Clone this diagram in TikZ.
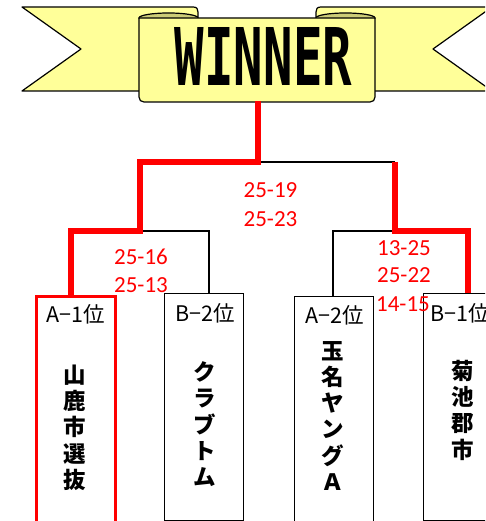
\documentclass[tikz,border=0pt]{standalone}
\usepackage{fontspec}
\newfontfamily\jpfont{Noto Sans CJK JP}
\newfontfamily\scorefont{Carlito}
\newfontfamily\winfont{DejaVu Sans Mono}
\definecolor{ribbon}{RGB}{255,255,153}
\definecolor{ribbondark}{RGB}{204,204,119}
\definecolor{winred}{RGB}{255,0,0}
\begin{document}
\begin{tikzpicture}[x=1pt,y=-1pt,
  ribbonpart/.style={fill=ribbon,draw=black,line width=1.2pt,line join=round},
  rollpart/.style={fill=ribbondark,draw=black,line width=1.2pt},
  teambox/.style={draw=black,line width=1.3pt,minimum width=79pt,anchor=north west,inner sep=0pt},
  winbox/.style={teambox,draw=winred,line width=2.8pt},
  seed/.style={font=\jpfont\fontsize{21.5}{24}\selectfont,inner sep=0pt},
  team/.style={font=\jpfont\bfseries\fontsize{22.5}{26.3}\selectfont,align=center,inner sep=0pt},
  score/.style={font=\scorefont\fontsize{23}{29}\selectfont,text=winred,inner sep=0pt},
  winline/.style={draw=winred,line width=5.5pt,line join=miter},
  loseline/.style={draw=black,line width=1.5pt}]
\useasboundingbox (0,0) rectangle (485,521);
\clip (0,0) rectangle (485,521);
% ribbon tails
\path[ribbonpart] (22,7) -- (193,7) .. controls (197,7) and (198,9) .. (198,12) -- (198,91) -- (22,91) -- (81,49) -- cycle;
\path[ribbonpart] (492,7) -- (321,7) .. controls (317,7) and (316,9) .. (316,12) -- (316,91) -- (492,91) -- (433,49) -- cycle;
% rolls
\path[rollpart] (168.5,18) ellipse [x radius=29.5pt, y radius=5pt];
\path[rollpart] (345.5,18) ellipse [x radius=29.5pt, y radius=5pt];
% center panel
\path[ribbonpart] (139,18) -- (139,97) .. controls (139,100) and (141,102) .. (144,102) -- (370,102) .. controls (373,102) and (375,100) .. (375,97) -- (375,18) -- cycle;
\node[inner sep=0pt] (win) at (263.5,56) {\resizebox{177pt}{58pt}{\winfont\bfseries WINNER}};
% coordinates of the bracket
\coordinate (bannerb) at (258,101);
\coordinate (fj) at (258,162);
\coordinate (fl) at (140,162);
\coordinate (fr) at (395,162);
\coordinate (sl) at (140,231);
\coordinate (sr) at (395,231);
\coordinate (l1) at (71,231);
\coordinate (l2) at (209,231);
\coordinate (r1) at (333,231);
\coordinate (r2) at (468,231);
% team boxes
\node[winbox, minimum height=235pt] (t1) at (35,295) {};
\node[teambox, minimum height=226.5pt] (t2) at (164,293) {};
\node[teambox, minimum height=234pt] (t3) at (294,296) {};
\node[teambox, minimum height=226.5pt] (t4) at (423,293) {};
% connectors
\draw[loseline] (fj) -- (fr);
\draw[loseline] (sl) -- (l2) -- (l2 |- t2.north);
\draw[loseline] (sr) -- (r1) -- (r1 |- t3.north);
\draw[winline] (bannerb) -- (fj) -- (fl) -- (sl) -- (l1) -- (l1 |- t1.north);
\draw[winline] (fr) -- (sr) -- (r2) -- (r2 |- t4.north);
% seeds
\node[seed] (p1) at (76,314) {A−1位};
\node[seed] (p2) at (205,313) {B−2位};
\node[seed] (p3) at (335,315) {A−2位};
\node[seed, anchor=west] (p4) at (430,313) {B−1位};
% team names
\node[team] (n1) at (74.5,427.5) {山\\鹿\\市\\選\\抜};
\node[team] (n2) at (205,424.2) {ク\\ラ\\ブ\\ト\\ム};
\node[team] (n3) at (333,415.8) {玉\\名\\ヤ\\ン\\グ\\Ａ};
\node[team] (n4) at (462.5,410.3) {菊\\池\\郡\\市};
% scores
\node[score] (f1) at (270.5,190.5) {25-19};
\node[score] (f2) at (270.5,219.5) {25-23};
\node[score] (a1) at (141,256.5) {25-16};
\node[score] (a2) at (141,285) {25-13};
\node[score] (b1) at (404,248.5) {13-25};
\node[score] (b2) at (404,275.5) {25-22};
\node[score] (b3) at (403,304.5) {14-15};
\end{tikzpicture}
\end{document}
